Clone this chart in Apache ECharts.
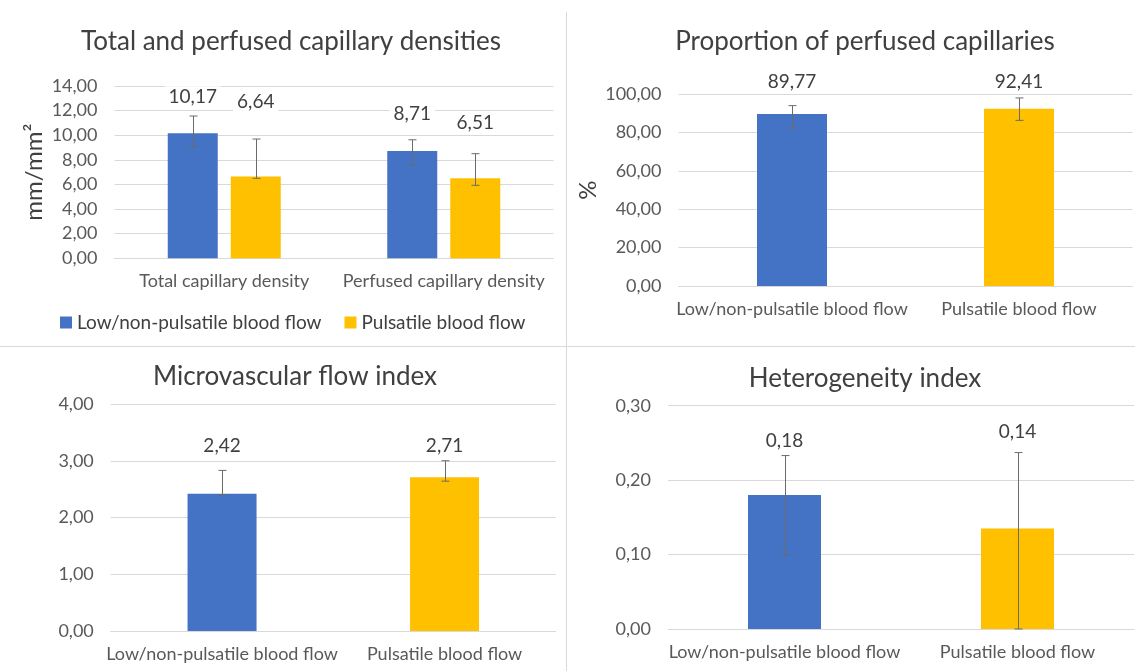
<!DOCTYPE html>
<html>
<head>
<meta charset="utf-8">
<script src="https://cdn.jsdelivr.net/npm/echarts@6/dist/echarts.min.js"></script>
<style>html,body{margin:0;padding:0;background:#fff}#c{width:1135px;height:671px}</style>
</head>
<body>
<div id="c"></div>
<script>
// ---------- data ----------
const seriesNames = ['Low/non-pulsatile blood flow', 'Pulsatile blood flow'];

// Chart 1: Total and perfused capillary densities
const densityCategories = ['Total capillary density', 'Perfused capillary density'];
const densityLow = [10.17, 8.71];
const densityPuls = [6.64, 6.51];
const densityLowErr = [[9.07, 11.56], [7.58, 9.63]];   // [lower, upper]
const densityPulsErr = [[6.50, 9.69], [5.93, 8.50]];

// Chart 2: Proportion of perfused capillaries
const groupCategories = ['Low/non-pulsatile blood flow', 'Pulsatile blood flow'];
const ppcValues = [89.77, 92.41];
const ppcErr = [[82.4, 94.1], [86.4, 98.1]];

// Chart 3: Microvascular flow index
const mfiValues = [2.42, 2.71];
const mfiErr = [[2.39, 2.83], [2.64, 3.00]];

// Chart 4: Heterogeneity index
const hiValues = [0.18, 0.135];
const hiErr = [[0.099, 0.233], [0.0, 0.237]];

// ---------- styling ----------
const BLUE = '#4472C4', YELLOW = '#FFC000';
const FONT = 'Lato';
const TXT = '#404040', AX = '#595959', GRID = '#d9d9d9', ERR = '#6b6b6b';
const fmt = v => Number(v).toFixed(2).replace('.', ',');

function errSeries(xi, yi, data, offset) {
  return {
    type: 'custom', xAxisIndex: xi, yAxisIndex: yi, z: 5, silent: true,
    data: data.map((d, i) => [i, d[0], d[1]]),
    renderItem: function (params, api) {
      const hi = api.coord([api.value(0), api.value(2)]);
      const lo = api.coord([api.value(0), api.value(1)]);
      const x = Math.round(hi[0] + offset) + 0.5;
      const c = 4;
      const st = { stroke: ERR, lineWidth: 1 };
      return { type: 'group', children: [
        { type: 'line', shape: { x1: x, y1: hi[1], x2: x, y2: lo[1] }, style: st },
        { type: 'line', shape: { x1: x - c, y1: hi[1], x2: x + c, y2: hi[1] }, style: st },
        { type: 'line', shape: { x1: x - c, y1: lo[1], x2: x + c, y2: lo[1] }, style: st }
      ]};
    }
  };
}

function labelCfg(dist) {
  return {
    show: true, position: 'top', distance: dist,
    formatter: p => fmt(p.value),
    fontFamily: FONT, fontSize: 19, color: TXT,
    backgroundColor: '#fff', padding: [1, 4], lineHeight: 20
  };
}

function dataWithLabels(values, colors, dists) {
  return values.map((v, i) => ({
    value: v,
    itemStyle: colors ? { color: colors[i] } : undefined,
    label: { distance: dists[i] }
  }));
}

const grids = [
  { left: 114.5, top: 86, width: 439, height: 172.3 },
  { left: 678.5, top: 94.3, width: 454, height: 191.7 },
  { left: 110.8, top: 404, width: 445, height: 227 },
  { left: 668, top: 405.7, width: 466, height: 223.3 }
];

function xAx(gi, cats) {
  return {
    type: 'category', gridIndex: gi, data: cats,
    axisLine: { lineStyle: { color: GRID } }, axisTick: { show: false },
    axisLabel: { fontFamily: FONT, fontSize: 18, color: AX, margin: 14, interval: 0 }
  };
}
function yAx(gi, max, interval, name, gap) {
  return {
    type: 'value', gridIndex: gi, min: 0, max: max, interval: interval,
    name: name || '', nameLocation: 'middle', nameRotate: 90, nameGap: gap || 0,
    nameTextStyle: { fontFamily: FONT, fontSize: 24, color: TXT },
    axisLine: { show: false }, axisTick: { show: false },
    splitLine: { lineStyle: { color: GRID } },
    axisLabel: { fontFamily: FONT, fontSize: 18, color: AX, margin: 17, formatter: fmt }
  };
}

const titleStyle = { fontFamily: FONT, fontSize: 26, fontWeight: 'normal', color: TXT };

const option = {
  animation: false,
  backgroundColor: '#fff',
  title: [
    { text: 'Total and perfused capillary densities', left: 286, top: 24, textAlign: 'center', textStyle: titleStyle },
    { text: 'Proportion of perfused capillaries', left: 860, top: 24, textAlign: 'center', textStyle: titleStyle },
    { text: 'Microvascular flow index', left: 290, top: 359, textAlign: 'center', textStyle: titleStyle },
    { text: 'Heterogeneity index', left: 860, top: 361, textAlign: 'center', textStyle: titleStyle }
  ],
  legend: {
    data: seriesNames, left: 55, top: 308, icon: 'rect',
    itemWidth: 12, itemHeight: 12, itemGap: 23,
    textStyle: { fontFamily: FONT, fontSize: 19, color: TXT }
  },
  graphic: [
    { type: 'line', shape: { x1: 0, y1: 346.5, x2: 1135, y2: 346.5 }, style: { stroke: GRID, lineWidth: 1 } },
    { type: 'line', shape: { x1: 566.5, y1: 12, x2: 566.5, y2: 671 }, style: { stroke: GRID, lineWidth: 1 } }
  ],
  grid: grids,
  xAxis: [xAx(0, densityCategories), xAx(1, groupCategories), xAx(2, groupCategories), xAx(3, groupCategories)],
  yAxis: [
    yAx(0, 14, 2, 'mm/mm²', 68),
    yAx(1, 100, 20, '%', 78),
    yAx(2, 4, 1),
    yAx(3, 0.3, 0.1)
  ],
  series: [
    { name: seriesNames[0], type: 'bar', xAxisIndex: 0, yAxisIndex: 0, barWidth: 50, barGap: '26%',
      itemStyle: { color: BLUE }, label: labelCfg(26), data: dataWithLabels(densityLow, null, [25, 26]) },
    { name: seriesNames[1], type: 'bar', xAxisIndex: 0, yAxisIndex: 0, barWidth: 50, barGap: '26%',
      itemStyle: { color: YELLOW }, label: labelCfg(26), data: dataWithLabels(densityPuls, null, [64, 44]) },
    errSeries(0, 0, densityLowErr, -31.5),
    errSeries(0, 0, densityPulsErr, 31.5),

    { name: 'ppc', type: 'bar', xAxisIndex: 1, yAxisIndex: 1, barWidth: 70,
      label: labelCfg(23), data: dataWithLabels(ppcValues, [BLUE, YELLOW], [21, 16]) },
    errSeries(1, 1, ppcErr, 0),

    { name: 'mfi', type: 'bar', xAxisIndex: 2, yAxisIndex: 2, barWidth: 69,
      label: labelCfg(23), data: dataWithLabels(mfiValues, [BLUE, YELLOW], [37, 20]) },
    errSeries(2, 2, mfiErr, 0),

    { name: 'hi', type: 'bar', xAxisIndex: 3, yAxisIndex: 3, barWidth: 73,
      label: labelCfg(23), data: dataWithLabels(hiValues, [BLUE, YELLOW], [43, 86]) },
    errSeries(3, 3, hiErr, 0)
  ]
};

echarts.init(document.getElementById('c'), null, { renderer: 'canvas' }).setOption(option);
</script>
</body>
</html>
